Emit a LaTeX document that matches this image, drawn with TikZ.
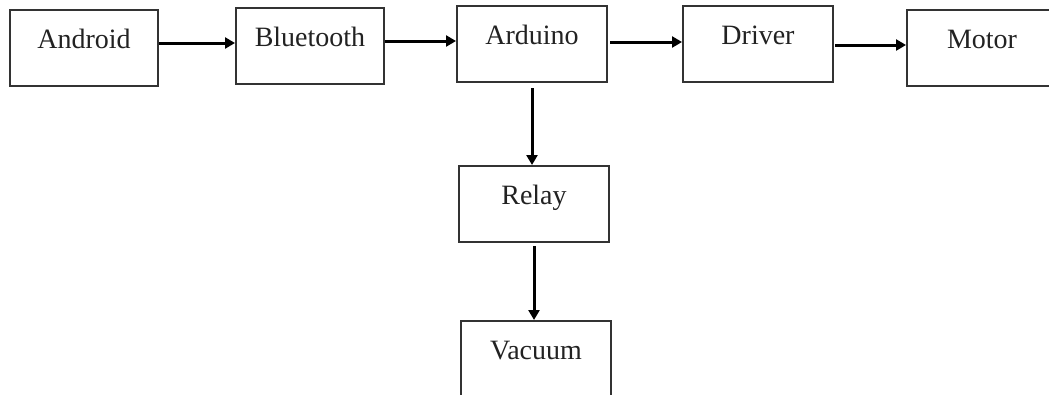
\documentclass[tikz,border=0pt]{standalone}
\usepackage{fontspec}
\setmainfont{Liberation Serif}
\usetikzlibrary{arrows.meta}
\definecolor{boxline}{HTML}{333333}
\definecolor{txt}{HTML}{222222}
\tikzset{
  blk/.style={draw=boxline, line width=2pt, fill=white, inner sep=0pt,
    minimum width=150pt, text height=38pt, text depth=38pt,
    font=\fontsize{28}{30}\selectfont, text=txt},
  arr/.style={draw=black, line width=3pt, -{Triangle[length=10pt,width=11pt]}}
}
\begin{document}
\begin{tikzpicture}[x=1pt,y=-1pt]
\useasboundingbox (0,0) rectangle (1049,394);
\clip (0,0) rectangle (1049,394);
\fill[white] (0,0) rectangle (1049,394);
\node[blk, minimum width=148pt] (android) at (84,48) {Android};
\node[blk, minimum width=148pt] (bluetooth) at (310,46) {Bluetooth};
\node[blk] (arduino) at (532,44) {Arduino};
\node[blk] (driver) at (758,44) {Driver};
\node[blk] (motor) at (982,48) {Motor};
\node[blk] (relay) at (534,204) {Relay};
\node[blk] (vacuum) at (536,359) {Vacuum};
\draw[arr] ([yshift=5pt]android.east) -- ([yshift=5pt]android.east -| bluetooth.west);
\draw[arr] ([yshift=5pt]bluetooth.east) -- ([yshift=5pt]bluetooth.east -| arduino.west);
\draw[arr, shorten <=2pt] ([yshift=2pt]arduino.east) -- ([yshift=2pt]arduino.east -| driver.west);
\draw[arr, shorten <=1pt] ([yshift=-1pt]driver.east) -- ([yshift=-1pt]driver.east -| motor.west);
\draw[arr, shorten <=5pt] (arduino.south) -- (arduino.south |- relay.north);
\draw[arr, shorten <=3pt] (relay.south) -- (relay.south |- vacuum.north);
\end{tikzpicture}
\end{document}
